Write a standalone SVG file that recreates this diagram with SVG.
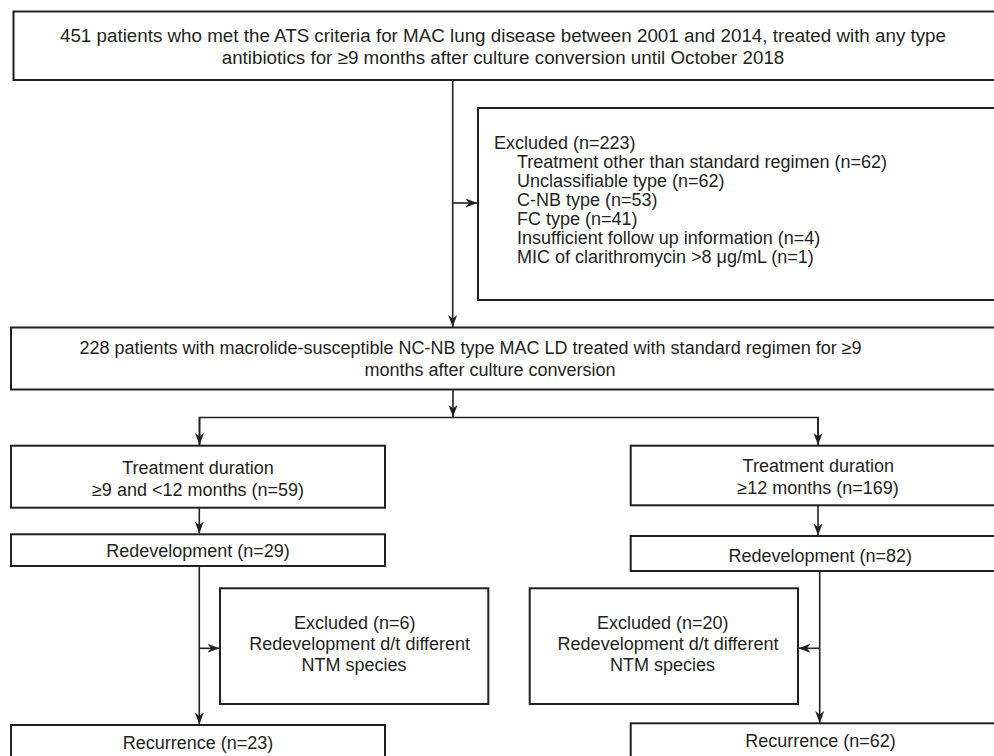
<svg xmlns="http://www.w3.org/2000/svg" width="994" height="756" viewBox="0 0 994 756">
<defs>
<marker id="arr" viewBox="0 0 12 10" refX="12" refY="5" markerWidth="12" markerHeight="10" orient="auto" markerUnits="userSpaceOnUse">
<path d="M0,0.5 L12,5 L0,9.5 L3.5,5 Z" fill="#231f20"/>
</marker>
</defs>
<style>
.box{fill:#fff;stroke:#231f20;stroke-width:2}
.t{font-family:"Liberation Sans",Arial,Helvetica,sans-serif;font-size:18px;fill:#231f20}
.big{font-size:18.8px}
.c{text-anchor:middle}
.ln{fill:none;stroke:#231f20;stroke-width:1.6}
</style>
<rect width="994" height="756" fill="#fff"/>
<g id="connectors">
<line class="ln" x1="452.7" y1="80" x2="452.7" y2="327" marker-end="url(#arr)"/>
<line class="ln" x1="452.7" y1="203" x2="477.5" y2="203" marker-end="url(#arr)"/>
<line class="ln" x1="453" y1="389.5" x2="453" y2="417" marker-end="url(#arr)"/>
<path class="ln" d="M199.5,445 V417.5 H818 V445"/>
<line class="ln" x1="199.5" y1="417.5" x2="199.5" y2="445" marker-end="url(#arr)"/>
<line class="ln" x1="818" y1="417.5" x2="818" y2="445" marker-end="url(#arr)"/>
<line class="ln" x1="199.3" y1="507.7" x2="199.3" y2="533.5" marker-end="url(#arr)"/>
<line class="ln" x1="818" y1="505.3" x2="818" y2="535.5" marker-end="url(#arr)"/>
<line class="ln" x1="199.3" y1="566" x2="199.3" y2="724.5" marker-end="url(#arr)"/>
<line class="ln" x1="199.3" y1="648.3" x2="219.5" y2="648.3" marker-end="url(#arr)"/>
<line class="ln" x1="819.7" y1="571" x2="819.7" y2="723" marker-end="url(#arr)"/>
<line class="ln" x1="819.7" y1="648.3" x2="798.5" y2="648.3" marker-end="url(#arr)"/>
</g>
<g id="n_top">
<rect class="box" x="13.5" y="11.5" width="995" height="68.5"/>
<text class="t big c" x="503" y="41.5">451 patients who met the ATS criteria for MAC lung disease between 2001 and 2014, treated with any type</text>
<text class="t big c" x="503" y="63.5">antibiotics for ≥9 months after culture conversion until October 2018</text>
</g>
<g id="n_excluded223">
<rect class="box" x="478" y="108" width="530" height="192"/>
<text class="t" x="494" y="149">Excluded (n=223)</text>
<text class="t" x="517" y="168">Treatment other than standard regimen (n=62)</text>
<text class="t" x="517" y="187">Unclassifiable type (n=62)</text>
<text class="t" x="517" y="206">C-NB type (n=53)</text>
<text class="t" x="517" y="225">FC type (n=41)</text>
<text class="t" x="517" y="244">Insufficient follow up information (n=4)</text>
<text class="t" x="517" y="263">MIC of clarithromycin &gt;8 μg/mL (n=1)</text>
</g>
<g id="n_228">
<rect class="box" x="11" y="327.5" width="997" height="62"/>
<text class="t c" x="470.5" y="354">228 patients with macrolide-susceptible NC-NB type MAC LD treated with standard regimen for ≥9</text>
<text class="t c" x="490" y="376">months after culture conversion</text>
</g>
<g id="n_dur_left">
<rect class="box" x="11" y="445.7" width="374" height="62"/>
<text class="t c" x="198" y="474">Treatment duration</text>
<text class="t c" x="198" y="495.5">≥9 and &lt;12 months (n=59)</text>
</g>
<g id="n_dur_right">
<rect class="box" x="630.7" y="445.7" width="380" height="59.6"/>
<text class="t c" x="818.3" y="472">Treatment duration</text>
<text class="t c" x="818" y="493.5">≥12 months (n=169)</text>
</g>
<g id="n_redev_left">
<rect class="box" x="11" y="534.3" width="374" height="31.7"/>
<text class="t c" x="198" y="557">Redevelopment (n=29)</text>
</g>
<g id="n_redev_right">
<rect class="box" x="630.7" y="536" width="380" height="35"/>
<text class="t c" x="820.3" y="562">Redevelopment (n=82)</text>
</g>
<g id="n_excl_left">
<rect class="box" x="220" y="588.3" width="268.3" height="115.7"/>
<text class="t c" x="354.7" y="629">Excluded (n=6)</text>
<text class="t c" x="359.7" y="649.5">Redevelopment d/t different</text>
<text class="t c" x="354" y="671">NTM species</text>
</g>
<g id="n_excl_right">
<rect class="box" x="529.7" y="588.3" width="268.3" height="115.7"/>
<text class="t c" x="662.8" y="629">Excluded (n=20)</text>
<text class="t c" x="668" y="649.5">Redevelopment d/t different</text>
<text class="t c" x="662.5" y="671">NTM species</text>
</g>
<g id="n_rec_left">
<rect class="box" x="11" y="725" width="374" height="40"/>
<text class="t c" x="198" y="749">Recurrence (n=23)</text>
</g>
<g id="n_rec_right">
<rect class="box" x="630.7" y="723.3" width="380" height="40"/>
<text class="t c" x="820.5" y="747">Recurrence (n=62)</text>
</g>
</svg>
